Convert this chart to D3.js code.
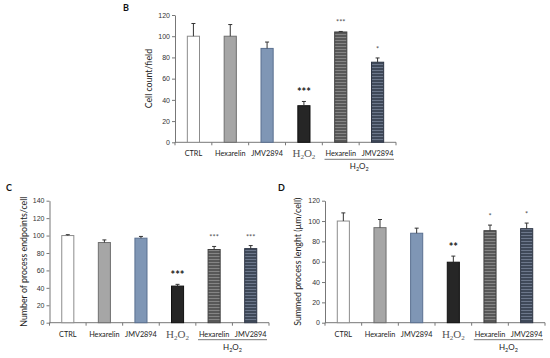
<!DOCTYPE html>
<html>
<head>
<meta charset="utf-8">
<script src="https://cdn.jsdelivr.net/npm/d3@7"></script>
<style>
  body { margin: 0; background: #fff; }
  svg { display: block; font-family: Lato, "Open Sans", sans-serif; }
</style>
</head>
<body>
<div id="chart"></div>
<script>
// categories, shared by all three panels
const categories = ["CTRL", "Hexarelin", "JMV2894", "H2O2", "Hexarelin+H2O2", "JMV2894+H2O2"];
const xLabels = ["CTRL", "Hexarelin", "JMV2894", "H2O2", "Hexarelin", "JMV2894"];

// panel B - cell count/field
const cellCount = [100, 100, 88.5, 34.5, 104, 75.5];
const cellCountErr = [12, 11, 6, 4, 0.5, 4];
const cellCountSig = ["", "", "", "***", "***", "*"];

// panel C - number of process endpoints/cell
const endpoints = [100, 92, 97, 42, 84, 85];
const endpointsErr = [1, 3, 2, 2, 3.5, 3.5];
const endpointsSig = ["", "", "", "***", "***", "***"];

// panel D - summed process length
const procLength = [100, 93.5, 88, 59.5, 90.5, 92.5];
const procLengthErr = [8, 8, 5, 6, 5.5, 5.5];
const procLengthSig = ["", "", "", "**", "*", "*"];

const W = 550, H = 358;
const svg = d3.select("#chart").append("svg")
  .attr("width", W)
  .attr("height", H);

const defs = svg.append("defs");
function stripes(id, base, line) {
  const p = defs.append("pattern")
    .attr("id", id)
    .attr("patternUnits", "userSpaceOnUse")
    .attr("width", 6).attr("height", 3);
  p.append("rect").attr("width", 6).attr("height", 3).attr("fill", base);
  p.append("rect").attr("y", 1).attr("width", 6).attr("height", 1).attr("fill", line);
}
stripes("hexStripe", "#585858", "#858585");
stripes("jmvStripe", "#3f4959", "#6c778b");

const fills = ["#ffffff", "#a6a6a6", "#7f96b5", "#262626", "url(#hexStripe)", "url(#jmvStripe)"];
const strokes = ["#8c8c8c", "#6f6f6f", "#5a7090", "#111111", "#3f3f3f", "#2e3646"];

function panel(cfg) {
  const g = svg.append("g");

  const x = d3.scaleBand()
    .domain(categories)
    .range([cfg.left, cfg.right])
    .paddingInner(0.67)
    .paddingOuter(0.335);

  const y = d3.scaleLinear()
    .domain([0, cfg.max])
    .range([cfg.bottom, cfg.top]);

  // y axis
  const yAxis = g.append("g")
    .attr("transform", "translate(" + cfg.left + ",0)")
    .call(d3.axisLeft(y).ticks(cfg.max / 20).tickSize(3).tickSizeOuter(0));
  yAxis.select(".domain").attr("stroke", "#777");
  yAxis.selectAll(".tick line").attr("stroke", "#777");
  yAxis.selectAll(".tick text")
    .attr("fill", "#333")
    .attr("font-size", 7)
    .attr("x", -5);

  // x axis, ticks between categories
  g.append("line")
    .attr("x1", cfg.left).attr("x2", cfg.right)
    .attr("y1", cfg.bottom).attr("y2", cfg.bottom)
    .attr("stroke", "#777");
  const step = x.step();
  g.selectAll(".xtick")
    .data(d3.range(categories.length + 1))
    .enter().append("line")
    .attr("x1", i => cfg.left + i * step)
    .attr("x2", i => cfg.left + i * step)
    .attr("y1", cfg.bottom).attr("y2", cfg.bottom + 3)
    .attr("stroke", "#777");

  // bars
  g.selectAll(".bar")
    .data(cfg.values)
    .enter().append("rect")
    .attr("x", (d, i) => x(categories[i]))
    .attr("y", d => y(d))
    .attr("width", x.bandwidth())
    .attr("height", d => cfg.bottom - y(d))
    .attr("fill", (d, i) => fills[i])
    .attr("stroke", (d, i) => strokes[i])
    .attr("stroke-width", 1);

  // error bars (upper only)
  const eb = g.selectAll(".err")
    .data(cfg.values)
    .enter().append("g");
  eb.append("line")
    .attr("x1", (d, i) => x(categories[i]) + x.bandwidth() / 2)
    .attr("x2", (d, i) => x(categories[i]) + x.bandwidth() / 2)
    .attr("y1", d => y(d))
    .attr("y2", (d, i) => y(d + cfg.errs[i]))
    .attr("stroke", "#333");
  eb.append("line")
    .attr("x1", (d, i) => x(categories[i]) + x.bandwidth() / 2 - 2)
    .attr("x2", (d, i) => x(categories[i]) + x.bandwidth() / 2 + 2)
    .attr("y1", (d, i) => y(d + cfg.errs[i]))
    .attr("y2", (d, i) => y(d + cfg.errs[i]))
    .attr("stroke", "#333");

  // significance stars
  g.selectAll(".sig")
    .data(cfg.sig)
    .enter().append("text")
    .attr("x", (d, i) => x(categories[i]) + x.bandwidth() / 2)
    .attr("y", (d, i) => y(cfg.values[i] + cfg.errs[i]) - (i === 3 ? 5 : 6))
    .attr("text-anchor", "middle")
    .attr("font-size", (d, i) => i === 3 ? 11 : 7.5)
    .attr("font-weight", (d, i) => i === 3 ? "bold" : "normal")
    .attr("fill", (d, i) => i === 3 ? "#222" : "#555")
    .text(d => d);

  // category labels
  const lab = g.selectAll(".xlab")
    .data(xLabels)
    .enter().append("text")
    .attr("x", (d, i) => x(categories[i]) + x.bandwidth() / 2)
    .attr("y", cfg.bottom + 14)
    .attr("text-anchor", "middle")
    .attr("fill", "#222")
    .attr("font-size", 7.3);
  lab.filter(d => d !== "H2O2").text(d => d);
  const h2 = lab.filter(d => d === "H2O2")
    .attr("font-family", "'Liberation Serif', serif")
    .attr("font-size", 11)
    .attr("fill", "#555")
    .attr("y", cfg.bottom + 15);
  h2.append("tspan").text("H");
  h2.append("tspan").attr("font-size", 7).attr("dy", 2).text("2");
  h2.append("tspan").attr("dy", -2).text("O");
  h2.append("tspan").attr("font-size", 7).attr("dy", 2).text("2");

  // group line + H2O2 label under the last two bars
  const gx1 = x(categories[4]) - step * 0.33 + 2;
  const gx2 = cfg.right - 2;
  g.append("line")
    .attr("x1", gx1).attr("x2", gx2)
    .attr("y1", cfg.bottom + 17).attr("y2", cfg.bottom + 17)
    .attr("stroke", "#555").attr("stroke-width", 0.8);
  const gl = g.append("text")
    .attr("x", (gx1 + gx2) / 2)
    .attr("y", cfg.bottom + 27)
    .attr("text-anchor", "middle")
    .attr("fill", "#222")
    .attr("font-size", 8);
  gl.append("tspan").text("H");
  gl.append("tspan").attr("font-size", 5.5).attr("dy", 2).text("2");
  gl.append("tspan").attr("dy", -2).text("O");
  gl.append("tspan").attr("font-size", 5.5).attr("dy", 2).text("2");

  // y axis title
  g.append("text")
    .attr("transform", "translate(" + cfg.titleX + "," + ((cfg.top + cfg.bottom) / 2) + ") rotate(-90)")
    .attr("text-anchor", "middle")
    .attr("fill", "#222")
    .attr("font-size", 8.8)
    .text(cfg.title);

  // panel letter
  g.append("text")
    .attr("x", cfg.letterX).attr("y", cfg.letterY)
    .attr("font-weight", "bold")
    .attr("font-size", 9)
    .attr("fill", "#111")
    .text(cfg.letter);
}

panel({
  letter: "B", letterX: 123, letterY: 11,
  left: 175, right: 396, top: 15, bottom: 142.3, max: 120,
  titleX: 152, title: "Cell count/field",
  values: cellCount, errs: cellCountErr, sig: cellCountSig
});

panel({
  letter: "C", letterX: 6, letterY: 191,
  left: 49.5, right: 269, top: 200.7, bottom: 322.7, max: 140,
  titleX: 27, title: "Number of process endpoints/cell",
  values: endpoints, errs: endpointsErr, sig: endpointsSig
});

panel({
  letter: "D", letterX: 278, letterY: 191,
  left: 325, right: 545, top: 200.7, bottom: 322.7, max: 120,
  titleX: 301, title: "Summed process lenght (\u00b5m/cell)",
  values: procLength, errs: procLengthErr, sig: procLengthSig
});
</script>
</body>
</html>
